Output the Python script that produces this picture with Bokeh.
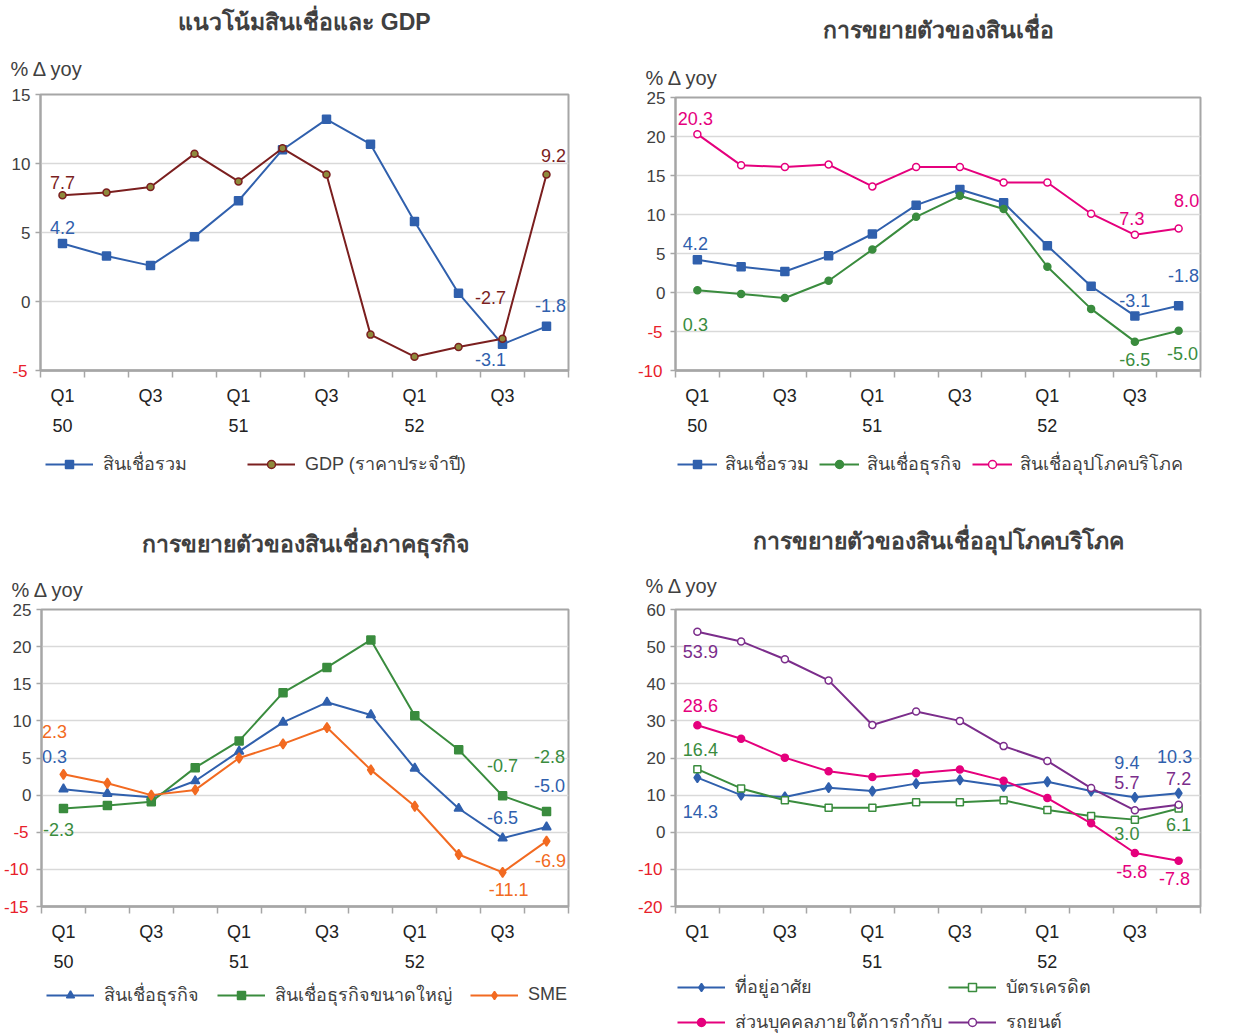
from bokeh.plotting import figure
from bokeh.models import FixedTicker, LinearAxis, Range1d, Title, Legend, LegendItem
from bokeh.layouts import row, column
from bokeh.embed import file_html
from bokeh.resources import INLINE
from bokeh.core.properties import value

# ---------------- data ----------------
quarters = ["Q1/50", "Q2/50", "Q3/50", "Q4/50", "Q1/51", "Q2/51", "Q3/51", "Q4/51",
            "Q1/52", "Q2/52", "Q3/52", "Q4/52"]
quarter_ticks = {0: "Q1", 2: "Q3", 4: "Q1", 6: "Q3", 8: "Q1", 10: "Q3"}
year_ticks_full = {0: "50", 4: "51", 8: "52"}
year_ticks_p4 = {4: "51", 8: "52"}

# panel 1
total_credit_1 = [4.2, 3.3, 2.6, 4.7, 7.3, 11.0, 13.2, 11.4, 5.8, 0.6, -3.1, -1.8]
gdp_nominal = [7.7, 7.9, 8.3, 10.7, 8.7, 11.1, 9.2, -2.4, -4.0, -3.3, -2.7, 9.2]
# panel 2
total_credit_2 = [4.2, 3.3, 2.7, 4.7, 7.5, 11.2, 13.2, 11.5, 6.0, 0.8, -3.0, -1.7]
business_credit_2 = [0.3, -0.2, -0.7, 1.5, 5.5, 9.7, 12.4, 10.7, 3.3, -2.1, -6.3, -4.9]
consumer_credit_2 = [20.3, 16.3, 16.1, 16.4, 13.6, 16.1, 16.1, 14.1, 14.1, 10.1, 7.4, 8.2]
# panel 3
business_credit_3 = [0.8, 0.2, -0.3, 1.9, 5.9, 9.8, 12.5, 10.8, 3.6, -1.8, -5.8, -4.3]
large_business_3 = [-1.8, -1.4, -0.9, 3.7, 7.3, 13.8, 17.2, 20.9, 10.7, 6.1, -0.1, -2.2]
sme_3 = [2.8, 1.6, 0.0, 0.7, 5.0, 6.9, 9.1, 3.4, -1.5, -8.0, -10.4, -6.2]
# panel 4
housing_4 = [14.7, 10.0, 9.5, 12.0, 11.1, 13.1, 14.1, 12.4, 13.6, 11.1, 9.4, 10.5]
credit_card_4 = [17.0, 11.8, 8.6, 6.6, 6.6, 8.1, 8.1, 8.6, 6.0, 4.4, 3.4, 6.4]
personal_4 = [28.8, 25.2, 20.1, 16.4, 14.9, 15.9, 16.9, 13.9, 9.2, 2.4, -5.6, -7.7]
auto_4 = [54.0, 51.4, 46.6, 40.9, 28.9, 32.5, 30.0, 23.2, 19.2, 11.9, 5.9, 7.4]

titles = ["แนวโน้มสินเชื่อและ GDP", "การขยายตัวของสินเชื่อ",
          "การขยายตัวของสินเชื่อภาคธุรกิจ", "การขยายตัวของสินเชื่ออุปโภคบริโภค"]
unit_label = "% Δ yoy"

# ---------------- styles ----------------
FONT = "Liberation Sans"
TXT = "#404040"
GRID = "#D9D9D9"
FRAME = "#A6A6A6"
NEG = "#E8202A"
BLUE = "#3060AD"
DRED = "#7B1F1F"
OLIVE = "#8E8A3C"
GREEN = "#3A8C3E"
PINK = "#E5007D"
ORANGE = "#F26A21"
PURPLE = "#7B2D8B"

xs = list(range(len(quarters)))


def make_panel(title, ylo, yhi, ystep, series, labels, years, legend_cfg,
               height, leg_height, bl, br, bt, bb, unit_off, unit_standoff,
               title_standoff):
    p = figure(width=627, height=height, output_backend="svg", toolbar_location=None,
               x_range=Range1d(-0.5, 11.5), y_range=Range1d(ylo, yhi),
               min_border_left=bl, min_border_right=br, min_border_top=bt,
               min_border_bottom=bb, background_fill_color="white",
               border_fill_color="white")
    p.outline_line_color = FRAME
    p.outline_line_width = 2
    p.xgrid.visible = False
    yt = list(range(ylo, yhi + 1, ystep))
    neg = [t for t in yt if t < 0]
    p.ygrid.ticker = FixedTicker(ticks=yt)
    p.ygrid.grid_line_color = GRID
    p.ygrid.grid_line_width = 1.5

    ya = p.yaxis[0]
    ya.ticker = FixedTicker(ticks=yt)
    ya.major_label_overrides = {t: ("" if t < 0 else str(t)) for t in yt}
    ya.major_label_text_font = FONT
    ya.major_label_text_font_size = "17px"
    ya.major_label_text_color = TXT
    ya.major_tick_out = 5
    ya.major_tick_in = 0
    ya.minor_tick_line_color = None
    ya.axis_line_color = FRAME
    ya.axis_line_width = 2
    ya.major_tick_line_color = FRAME
    ya.major_tick_line_width = 1.5
    ya.major_label_standoff = 5

    # negative tick labels in red, on a second axis shifted back over the first
    ya_neg = LinearAxis(ticker=FixedTicker(ticks=neg),
                        major_label_overrides={t: str(t) for t in neg},
                        axis_line_color=None, major_tick_line_color=None,
                        minor_tick_line_color=None, major_tick_out=0, major_tick_in=0,
                        major_label_standoff=-19, major_label_text_font=FONT,
                        major_label_text_font_size="17px", major_label_text_color=NEG)
    p.add_layout(ya_neg, "left")

    xa = p.xaxis[0]
    xa.ticker = FixedTicker(ticks=list(quarter_ticks.keys()),
                            minor_ticks=[x - 0.5 for x in range(13)])
    xa.major_label_overrides = quarter_ticks
    xa.major_label_text_font = FONT
    xa.major_label_text_font_size = "18px"
    xa.major_label_text_color = "#222222"
    xa.major_tick_out = 0
    xa.major_tick_in = 0
    xa.minor_tick_out = 7
    xa.minor_tick_in = 0
    xa.minor_tick_line_color = FRAME
    xa.minor_tick_line_width = 1.5
    xa.axis_line_color = FRAME
    xa.axis_line_width = 2.5
    xa.major_label_standoff = 8

    ax2 = LinearAxis(ticker=FixedTicker(ticks=list(years.keys())),
                     major_label_overrides=years,
                     axis_line_color=None, major_tick_line_color=None,
                     minor_tick_line_color=None,
                     major_label_text_font=FONT, major_label_text_font_size="18px",
                     major_label_text_color="#222222", major_label_standoff=4)
    p.add_layout(ax2, "below")

    # legend lives in its own small figure under the chart
    lf = figure(width=627, height=leg_height, output_backend="svg", toolbar_location=None,
                x_range=Range1d(0, 1), y_range=Range1d(0, 1),
                min_border_left=bl, min_border_right=0, min_border_top=0,
                min_border_bottom=0, outline_line_color=None)
    lf.axis.visible = False
    lf.grid.visible = False

    items = []
    for s in series:
        p.line(xs, s["values"], line_color=s["color"], line_width=2)
        p.scatter(xs, s["values"], marker=s["marker"], size=s["size"],
                  line_color=s.get("mline", s["color"]),
                  fill_color=s.get("fill", s["color"]), line_width=1.5)
        lr = lf.line([-5, -4], [-5, -4], line_color=s["color"], line_width=2)
        sr = lf.scatter([-5], [-5], marker=s["marker"], size=s["size"],
                        line_color=s.get("mline", s["color"]),
                        fill_color=s.get("fill", s["color"]), line_width=1.5)
        items.append(LegendItem(label=s["name"], renderers=[lr, sr]))

    for (si, pi, text, dx, dy) in labels:
        s = series[si]
        p.text(x=[xs[pi]], y=[s["values"][pi]], text=[text], x_offset=dx, y_offset=dy,
               text_align="center", text_baseline="middle",
               text_font=value(FONT), text_font_size="18px", text_color=s["color"])

    lx, ly, spacing, ncols, gw, lstand = legend_cfg
    leg = Legend(items=items, orientation="horizontal", location=(lx, ly),
                 glyph_width=gw, glyph_height=20, label_height=20,
                 label_text_font=FONT, label_text_font_size="18px",
                 label_text_color=TXT, label_standoff=lstand, spacing=spacing,
                 border_line_color=None, background_fill_alpha=0, padding=0,
                 margin=0)
    if ncols:
        leg.ncols = ncols
    lf.add_layout(leg)

    p.add_layout(Title(text=unit_label, align="left", offset=unit_off,
                       text_font=FONT, text_font_size="20px", text_font_style="normal",
                       text_color=TXT, standoff=unit_standoff), "above")
    p.add_layout(Title(text=title, align="center", text_font=FONT,
                       text_font_size="23px", text_font_style="bold",
                       text_color=TXT, standoff=title_standoff), "above")
    return column(p, lf)


s1 = [dict(name="สินเชื่อรวม", values=total_credit_1, color=BLUE, marker="square", size=8),
      dict(name="GDP (ราคาประจำปี)", values=gdp_nominal, color=DRED, marker="circle",
           size=7, fill=OLIVE, mline=DRED)]
l1 = [(0, 0, "4.2", 0, -16), (0, 10, "-3.1", -12, 15), (0, 11, "-1.8", 4, -21),
      (1, 0, "7.7", 0, -13), (1, 10, "-2.7", -12, -41), (1, 11, "9.2", 7, -19)]

s2 = [dict(name="สินเชื่อรวม", values=total_credit_2, color=BLUE, marker="square", size=8),
      dict(name="สินเชื่อธุรกิจ", values=business_credit_2, color=GREEN, marker="circle", size=7),
      dict(name="สินเชื่ออุปโภคบริโภค", values=consumer_credit_2, color=PINK, marker="circle",
           size=7, fill="white")]
l2 = [(2, 0, "20.3", -2, -16), (2, 10, "7.3", -3, -16), (2, 11, "8.0", 8, -28),
      (0, 0, "4.2", -2, -16), (0, 10, "-3.1", 0, -15), (0, 11, "-1.8", 5, -30),
      (1, 0, "0.3", -2, 34), (1, 10, "-6.5", 0, 18), (1, 11, "-5.0", 4, 23)]

s3 = [dict(name="สินเชื่อธุรกิจ", values=business_credit_3, color=BLUE, marker="triangle", size=9),
      dict(name="สินเชื่อธุรกิจขนาดใหญ่", values=large_business_3, color=GREEN, marker="square", size=8),
      dict(name="SME", values=sme_3, color=ORANGE, marker="diamond", size=10)]
l3 = [(2, 0, "2.3", -9, -43), (0, 0, "0.3", -9, -33), (1, 0, "-2.3", -5, 21),
      (1, 10, "-0.7", 0, -30), (1, 11, "-2.8", 3, -55), (0, 10, "-6.5", 0, -21),
      (0, 11, "-5.0", 3, -42), (2, 10, "-11.1", 6, 17), (2, 11, "-6.9", 4, 19)]

s4 = [dict(name="ที่อยู่อาศัย", values=housing_4, color=BLUE, marker="diamond", size=10),
      dict(name="บัตรเครดิต", values=credit_card_4, color=GREEN, marker="square", size=7,
           fill="white"),
      dict(name="ส่วนบุคคลภายใต้การกำกับ", values=personal_4, color=PINK, marker="circle", size=7),
      dict(name="รถยนต์", values=auto_4, color=PURPLE, marker="circle", size=7, fill="white")]
l4 = [(3, 0, "53.9", 3, 20), (2, 0, "28.6", 3, -20), (1, 0, "16.4", 3, -20),
      (0, 0, "14.3", 3, 34), (0, 10, "9.4", -8, -35), (3, 10, "5.7", -8, -28),
      (1, 10, "3.0", -8, 14), (2, 10, "-5.8", -3, 18), (0, 11, "10.3", -4, -37),
      (3, 11, "7.2", 0, -26), (1, 11, "6.1", 0, 16), (2, 11, "-7.8", -4, 18)]

c1 = make_panel(titles[0], -5, 15, 5, s1, l1, year_ticks_full, (5, 40, 60, None, 48, 10),
                440, 78, 40, 59, 93, 70, -30, 30, 12)
c2 = make_panel(titles[1], -10, 25, 5, s2, l2, year_ticks_full, (2, 40, 10, None, 40, 8),
                440, 78, 48, 54, 94, 70, -30, 17, 28)
c3 = make_panel(titles[2], -15, 25, 5, s3, l3, year_ticks_full, (5, 27, 18, None, 48, 10),
                452, 66, 40, 59, 89, 63, -30, 18, 21)
c4 = make_panel(titles[3], -20, 60, 10, s4, l4, year_ticks_p4, (2, 0, 6, 2, 48, 10),
                452, 66, 48, 54, 90, 63, -30, 25, 14)

layout = column(row(c1, c2), row(c3, c4))
open("out.html", "w").write(file_html(layout, INLINE))
